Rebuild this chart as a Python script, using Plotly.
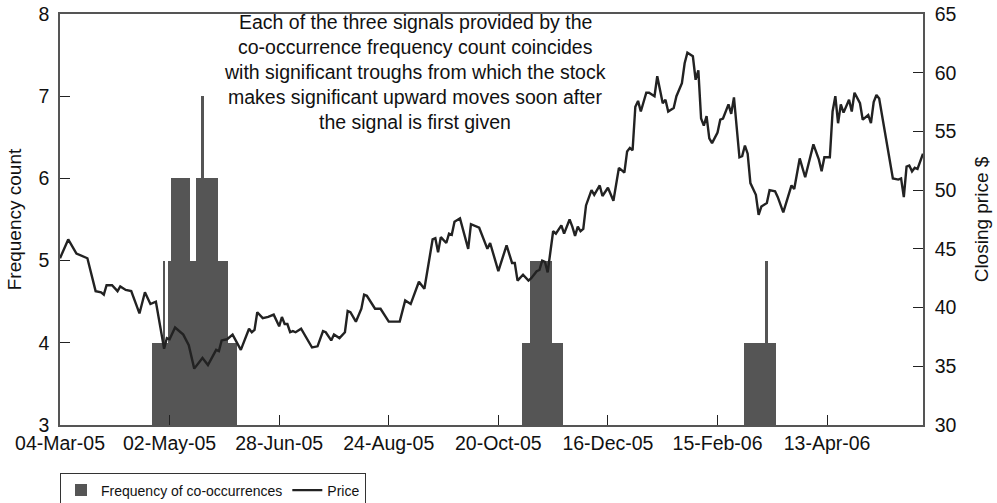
import plotly.graph_objects as go

# Trading-day index (0 = 04-Mar-05) and closing price
price_day = [0, 3, 6, 10, 13, 15, 16, 17, 19, 21, 22, 24, 26, 29, 31, 33, 35, 38, 39, 40,
             42, 45, 47, 49, 52, 54, 57, 58, 59, 61, 63, 66, 69, 70, 71, 72, 74, 76, 78, 80,
             81, 82, 83, 84, 85, 86, 88, 92, 94, 96, 97, 99, 100, 102, 104, 105, 106, 108, 110, 111,
             112, 115, 117, 120, 124, 126, 128, 131, 133, 136, 137, 138, 139, 141, 142, 143, 144, 146, 149, 150,
             153, 156, 157, 160, 163, 165, 166, 167, 169, 171, 172, 174, 175, 176, 177, 178, 180, 181, 183, 184,
             186, 187, 188, 189, 190, 191, 192, 194, 195, 197, 198, 200, 202, 204, 205, 206, 207, 208, 209, 210,
             211, 212, 214, 215, 217, 218, 220, 221, 222, 224, 225, 227, 228, 229, 231, 232, 233, 234, 235, 236,
             237, 238, 240, 241, 242, 244, 245, 246, 248, 249, 250, 251, 252, 254, 255, 256, 258, 259, 261, 262,
             264, 267, 268, 270, 272, 275, 277, 278, 279, 281, 282, 283, 284, 285, 286, 288, 289, 290, 292, 293,
             295, 296, 297, 298, 299, 301, 303, 304, 306, 307, 308, 309, 310, 311, 312, 313, 315]
price = [44.2, 45.8, 44.6, 44.2, 41.4, 41.3, 41.1, 41.9, 41.9, 41.4, 41.8, 41.5, 41.4, 39.5, 41.3, 40.3, 40.5, 36.5, 37.4, 37.3,
         38.3, 37.7, 36.8, 34.8, 35.7, 35.1, 36.4, 36.3, 37.2, 37.3, 37.7, 36.4, 38.2, 37.9, 38.1, 39.6, 39.1, 39.2, 39.4, 38.4,
         39.2, 38.6, 38.6, 37.9, 38.0, 37.9, 38.2, 36.6, 36.7, 38.0, 37.9, 37.2, 37.7, 37.4, 37.9, 39.7, 39.6, 38.8, 39.9, 41.1,
         41.0, 39.9, 39.9, 38.8, 38.8, 40.6, 40.3, 42.2, 41.6, 45.8, 45.9, 44.7, 46.0, 45.5, 46.3, 46.2, 47.3, 47.6, 45.0, 47.1,
         46.8, 45.0, 45.5, 43.1, 45.3, 43.8, 43.8, 42.3, 42.8, 42.3, 42.5, 43.1, 43.2, 44.0, 43.9, 43.0, 46.5, 46.3, 47.0, 46.3,
         47.5, 46.9, 46.1, 46.9, 46.5, 46.7, 48.7, 50.0, 49.6, 50.4, 49.5, 50.2, 49.1, 51.9, 51.7, 51.5, 53.3, 53.6, 53.4, 57.1,
         57.6, 56.7, 58.3, 58.3, 58.0, 59.7, 57.4, 57.7, 56.7, 57.0, 58.0, 59.1, 60.8, 61.7, 61.4, 59.4, 60.2, 56.1, 55.5, 56.3,
         54.4, 54.0, 54.9, 56.0, 56.1, 57.3, 56.5, 57.9, 52.8, 52.9, 53.8, 53.1, 50.6, 49.6, 47.9, 48.6, 48.9, 50.0, 49.9, 49.4,
         48.1, 50.4, 50.1, 52.7, 51.1, 53.9, 52.6, 51.6, 52.8, 52.8, 56.7, 58.0, 55.7, 57.3, 56.6, 57.7, 56.7, 58.3, 57.4, 56.0,
         56.4, 55.7, 57.5, 58.1, 57.8, 55.1, 52.1, 51.0, 50.9, 51.0, 49.4, 52.0, 52.1, 51.6, 51.9, 51.8, 53.1]

# Days with a non-zero co-occurrence count
freq_day = [34, 35, 36, 37, 38, 39, 40, 41, 42, 43, 44, 45, 46, 47, 48, 49, 50, 51, 52, 53,
            54, 55, 56, 57, 58, 59, 60, 61, 62, 63, 64,
            169, 170, 171, 172, 173, 174, 175, 176, 177, 178, 179, 180, 181, 182, 183,
            250, 251, 252, 253, 254, 255, 256, 257, 258, 259, 260, 261]
freq_count = [4, 4, 4, 4, 5, 4, 5, 6, 6, 6, 6, 6, 6, 6, 5, 5, 6, 6, 7, 6,
              6, 6, 6, 6, 5, 5, 5, 5, 4, 4, 4,
              4, 4, 4, 5, 5, 5, 5, 5, 5, 5, 5, 4, 4, 4, 4,
              4, 4, 4, 4, 4, 4, 4, 4, 5, 4, 4, 4]

tick_days = [0, 40, 80, 120, 160, 200, 240, 280]
tick_labels = ["04-Mar-05", "02-May-05", "28-Jun-05", "24-Aug-05",
               "20-Oct-05", "16-Dec-05", "15-Feb-06", "13-Apr-06"]

note_lines = [
    "Each of the three signals provided by the",
    "co-occurrence frequency count coincides",
    "with significant troughs from which the stock",
    "makes significant upward moves soon after",
    "the signal is first given",
]

font = "Liberation Sans, Arial, sans-serif"
axis_col = "#555555"

fig = go.Figure()
fig.add_trace(go.Bar(
    x=freq_day, y=freq_count, width=1,
    marker=dict(color="#555555", line=dict(width=0)),
    name="Frequency of co-occurrences",
))
fig.add_trace(go.Scatter(
    x=price_day, y=price, mode="lines", yaxis="y2",
    line=dict(color="#222222", width=2.4),
    name="Price",
))

# Note text, one annotation per line to match the line spacing
for i, line in enumerate(note_lines):
    fig.add_annotation(
        text=line, xref="paper", yref="paper",
        x=(415 - 60) / 863, y=1 - (22 - 14 + 25 * i) / 411,
        xanchor="center", yanchor="middle", showarrow=False,
        font=dict(size=19.5, color="#111111", family=font),
    )

fig.update_layout(
    width=997, height=503,
    margin=dict(l=60, r=74, t=14, b=78, autoexpand=False),
    plot_bgcolor="white", paper_bgcolor="white",
    font=dict(family=font, size=19.5, color="#111111"),
    bargap=0,
    showlegend=True,
    legend=dict(
        orientation="h", x=0, y=-0.118, xanchor="left", yanchor="top",
        bordercolor="#333333", borderwidth=1, bgcolor="white",
        font=dict(size=14), tracegroupgap=0, itemwidth=30,
    ),
    xaxis=dict(
        range=[0, 315], tickmode="array", tickvals=tick_days, ticktext=tick_labels,
        ticks="inside", ticklen=10, tickcolor="#222222",
        showline=True, linecolor=axis_col, linewidth=1.5, mirror=True,
        showgrid=False, zeroline=False, automargin=False,
    ),
    yaxis=dict(
        range=[3, 8], dtick=1, ticks="inside", ticklen=10, tickcolor="#222222",
        showline=True, linecolor=axis_col, linewidth=1.5,
        showgrid=False, zeroline=False, automargin=False,
        ticklabelstandoff=5, ticklabeloverflow="allow",
        title=dict(text="Frequency count", standoff=12, font=dict(size=19)),
    ),
    yaxis2=dict(
        range=[30, 65], dtick=5, overlaying="y", side="right",
        ticks="inside", ticklen=10, tickcolor="#222222",
        showline=True, linecolor=axis_col, linewidth=1.5,
        showgrid=False, zeroline=False, automargin=False,
        ticklabelstandoff=6, ticklabeloverflow="allow",
        title=dict(text="Closing price $", standoff=19, font=dict(size=19)),
    ),
)

# drop the default 8px page margin so the figure sits at the window origin
fig.write_html(
    "out.html",
    config={"displayModeBar": False},
    post_script="document.body.style.margin='0';",
)
